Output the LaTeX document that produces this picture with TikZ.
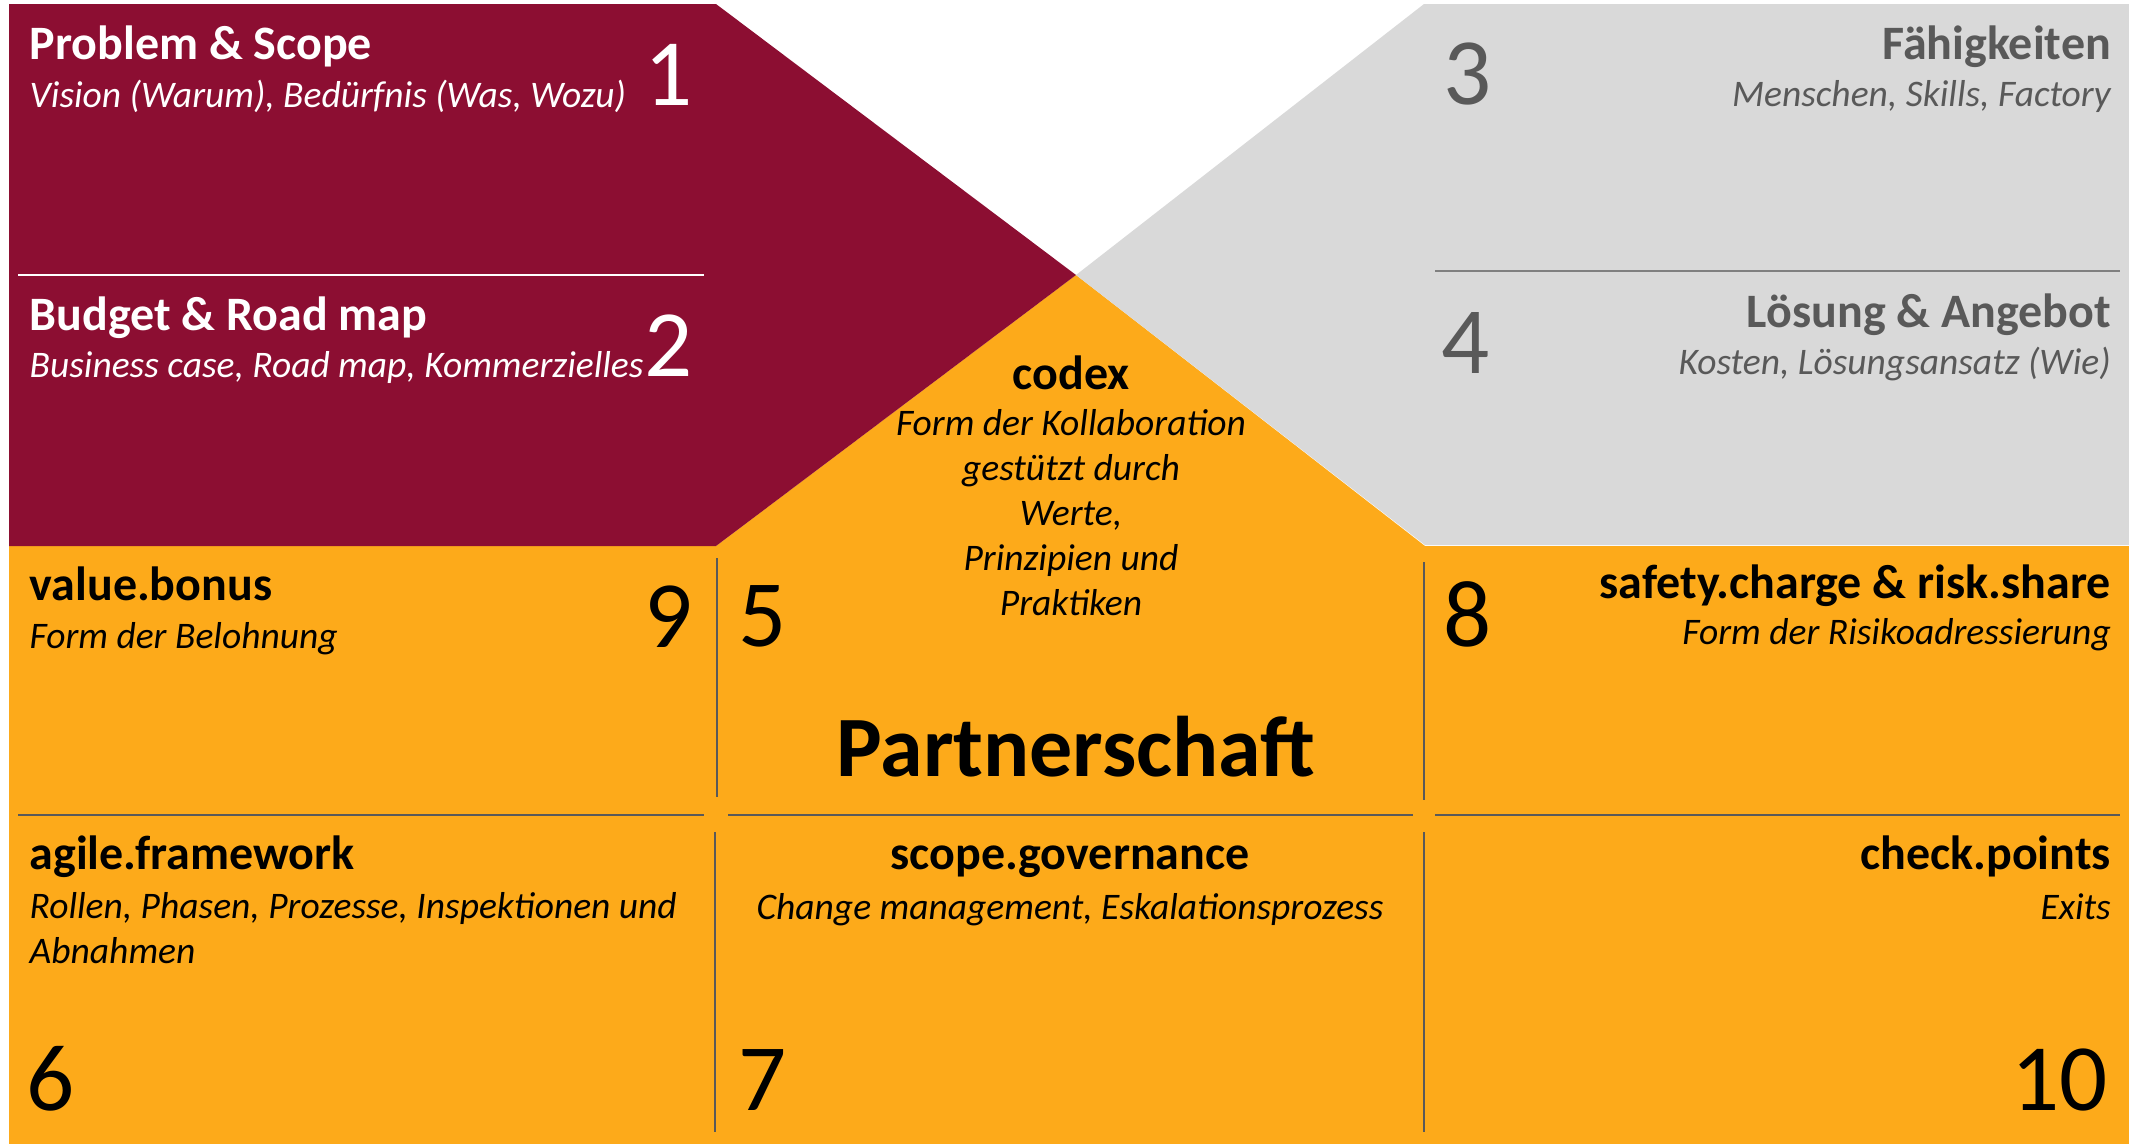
\documentclass[tikz,border=0pt]{standalone}
\usepackage{fontspec}
\setmainfont{Carlito}
\definecolor{maroon}{HTML}{8C0E32}
\definecolor{orng}{HTML}{FDAA1A}
\definecolor{lgray}{HTML}{D9D9D9}
\definecolor{tgray}{HTML}{595959}
\definecolor{lgline}{HTML}{808080}
\begin{document}
\begin{tikzpicture}[x=1pt,y=-1pt,
  ttl/.style={font=\fontsize{48}{56}\selectfont\bfseries, inner sep=0pt},
  sub/.style={font=\fontsize{37.5}{44.5}\selectfont\itshape, inner sep=0pt},
  num/.style={font=\fontsize{95}{100}\selectfont, inner sep=0pt},
  divider/.style={draw=tgray, line width=1.8pt},
]
\useasboundingbox (0,0) rectangle (2129,1144);
% areas
\fill[orng] (9,546) rectangle (2129,1144);
\fill[orng] (716,546) -- (1076,275) -- (1425,546) -- cycle;
\fill[maroon] (9,4) -- (716,4) -- (1076,275) -- (716,546) -- (9,546) -- cycle;
\fill[lgray] (1424,4) -- (2129,4) -- (2129,545) -- (1425,545) -- (1076,275) -- cycle;
% dividers
\draw[white, line width=1.5pt] (18,275) -- (704,275);
\draw[lgline, line width=2pt] (1435,271) -- (2120,271);
\draw[divider] (717,558) -- (717,797);
\draw[divider] (1424,562) -- (1424,800);
\draw[divider] (715,832) -- (715,1132);
\draw[divider] (1424,832) -- (1424,1132);
\draw[divider] (18,815) -- (704,815);
\draw[divider] (728,815) -- (1413,815);
\draw[divider] (1435,815) -- (2120,815);
% 1
\node[ttl, white, anchor=base west] (t1) at (29.5,59) {Problem \& Scope};
\node[sub, white, anchor=base west] (s1) at (29.5,107) {Vision (Warum), Bedürfnis (Was, Wozu)};
\node[num, white, anchor=base east] (n1) at (693,105) {1};
% 2
\node[ttl, white, anchor=base west] (t2) at (29.5,330) {Budget \& Road map};
\node[sub, white, anchor=base west] (s2) at (29.5,377) {Business case, Road map, Kommerzielles};
\node[num, white, anchor=base east] (n2) at (693,376) {2};
% 3
\node[ttl, tgray, anchor=base east] (t3) at (2111,59) {Fähigkeiten};
\node[sub, tgray, anchor=base east] (s3) at (2111,106) {Menschen, Skills, Factory};
\node[num, tgray, anchor=base west] (n3) at (1443,104) {3};
% 4
\node[ttl, tgray, anchor=base east] (t4) at (2111,327) {Lösung \& Angebot};
\node[sub, tgray, anchor=base east] (s4) at (2111,374) {Kosten, Lösungsansatz (Wie)};
\node[num, tgray, anchor=base west] (n4) at (1441,373) {4};
% codex
\node[ttl, anchor=base] (t5) at (1071,389) {codex};
\node[sub, anchor=base, align=center, font=\fontsize{37.5}{44.8}\selectfont\itshape] (s5) at (1071,615)
  {Form der Kollaboration\\gestützt durch\\Werte,\\Prinzipien und\\Praktiken};
\node[num, anchor=base west] (n5) at (738,646) {5};
\node[inner sep=0pt, anchor=base, font=\fontsize{86}{92}\selectfont\bfseries] (ps) at (1076,776) {Partnerschaft};
% 9
\node[ttl, anchor=base west] (t9) at (29.5,600) {value.bonus};
\node[sub, anchor=base west] (s9) at (29.5,648) {Form der Belohnung};
\node[num, anchor=base east] (n9) at (693,647) {9};
% 8
\node[ttl, anchor=base east] (t8) at (2111,598) {safety.charge \& risk.share};
\node[sub, anchor=base east] (s8) at (2111,644) {Form der Risikoadressierung};
\node[num, anchor=base west] (n8) at (1443,646) {8};
% 6
\node[ttl, anchor=base west] (t6) at (29.5,869) {agile.framework};
\node[sub, anchor=base west, align=left] (s6) at (29.5,963) {Rollen, Phasen, Prozesse, Inspektionen und\\Abnahmen};
\node[num, anchor=base west] (n6) at (26,1110) {6};
% 7
\node[ttl, anchor=base] (t7) at (1070,869) {scope.governance};
\node[sub, anchor=base] (s7) at (1070,919) {Change management, Eskalationsprozess};
\node[num, anchor=base west] (n7) at (738,1110) {7};
% 10
\node[ttl, anchor=base east] (t10) at (2111,869) {check.points};
\node[sub, anchor=base east] (s10) at (2111,919) {Exits};
\node[num, anchor=base east] (n10) at (2108,1110) {10};
\end{tikzpicture}
\end{document}
